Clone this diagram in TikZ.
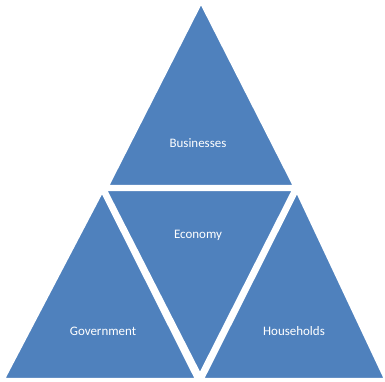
\documentclass[tikz,border=0pt]{standalone}
\usepackage{fontspec}
\setmainfont{Carlito}
\definecolor{triblue}{HTML}{4F81BD}
\begin{document}
\begin{tikzpicture}[x=1bp,y=-1bp,
  tri/.style={fill=triblue,draw=white,line width=2.2bp,line join=miter},
  lbl/.style={text=white,font=\fontsize{13}{15}\selectfont,inner sep=0pt}]
\useasboundingbox (0,0) rectangle (385,382);
\fill[white] (0,0) rectangle (385,382);
% top triangle
\coordinate (ta) at (201,3);
\coordinate (tb) at (108,186);
\coordinate (tc) at (294,186);
\draw[tri] (ta) -- (tb) -- (tc) -- cycle;
% middle inverted triangle
\coordinate (ma) at (106,190);
\coordinate (mb) at (293,190);
\coordinate (mc) at (200,374);
\draw[tri] (ma) -- (mb) -- (mc) -- cycle;
% left triangle
\coordinate (la) at (102,192);
\coordinate (lb) at (4,379);
\coordinate (lc) at (196,379);
\draw[tri] (la) -- (lb) -- (lc) -- cycle;
% right triangle
\coordinate (ra) at (297,192);
\coordinate (rb) at (203,379);
\coordinate (rc) at (385,379);
\draw[tri] (ra) -- (rb) -- (rc) -- cycle;
\node[lbl] (bus) at (198,143) {Businesses};
\node[lbl] (eco) at (198,235) {Economy};
\node[lbl] (gov) at (103,331) {Government};
\node[lbl] (hou) at (294,331) {Households};
\end{tikzpicture}
\end{document}
